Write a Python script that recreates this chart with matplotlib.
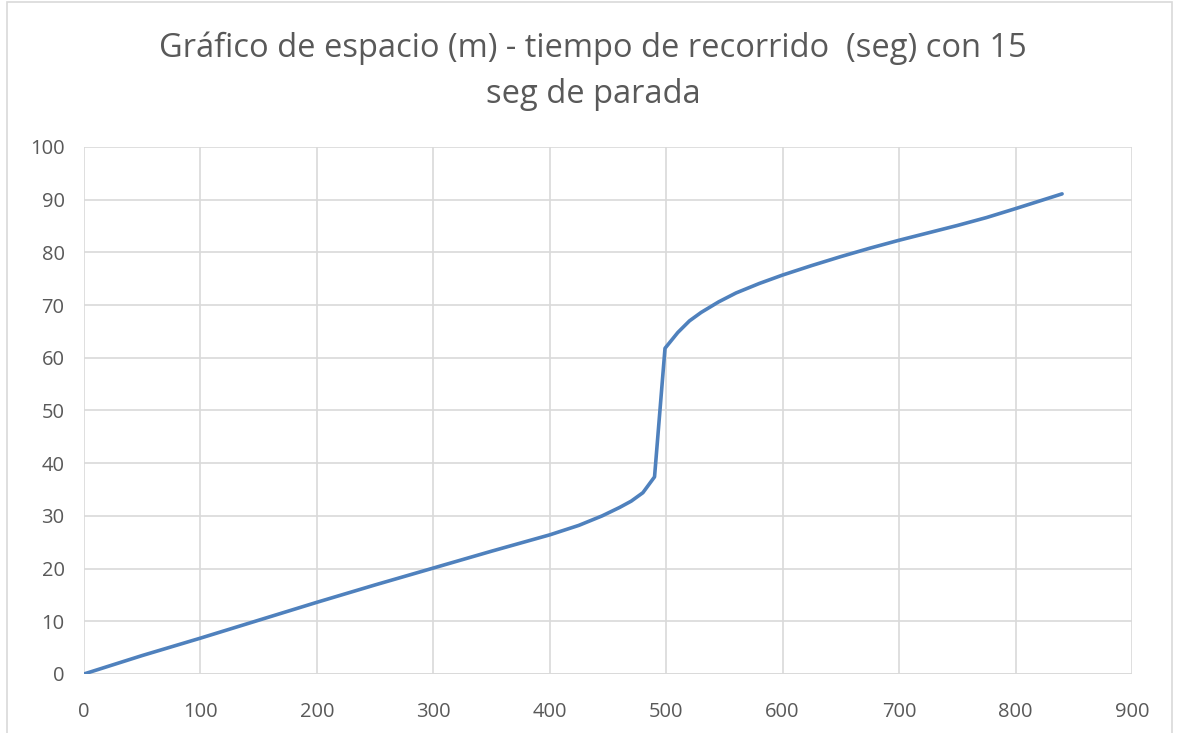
import matplotlib.pyplot as plt
from matplotlib.patches import Rectangle

# datos
tiempo = [0, 50, 100, 150, 200, 250, 300, 350, 400, 425, 445, 460, 470, 480,
          490, 499, 510, 520, 530, 545, 560, 580, 600, 625, 650, 675, 700,
          725, 750, 775, 800, 820, 840]
espacio = [0, 3.5, 6.8, 10.2, 13.6, 16.9, 20.1, 23.3, 26.4, 28.2, 30.0, 31.6,
           32.8, 34.4, 37.4, 61.8, 64.8, 67.0, 68.6, 70.6, 72.3, 74.1, 75.7,
           77.5, 79.2, 80.8, 82.3, 83.7, 85.1, 86.6, 88.3, 89.7, 91.1]

x_ticks = list(range(0, 1000, 100))
y_ticks = list(range(0, 110, 10))

titulo = "Gráfico de espacio (m) - tiempo de recorrido  (seg) con 15\nseg de parada"

plt.rcParams['font.family'] = ['Open Sans', 'DejaVu Sans']

fig = plt.figure(figsize=(11.79, 7.33), dpi=100)
ax = fig.add_axes([0.0712, 0.0805, 0.8889, 0.719])

ax.plot(tiempo, espacio, color='#4F81BD', linewidth=2.6, solid_capstyle='round')

ax.set_xlim(0, 900)
ax.set_ylim(0, 100)
ax.set_xticks(x_ticks)
ax.set_yticks(y_ticks)
ax.grid(True, color='#d9d9d9', linewidth=1.2)
ax.set_axisbelow(True)
for s in ax.spines.values():
    s.set_visible(False)
ax.axhline(0, color='#d9d9d9', linewidth=1.2, zorder=1)
ax.tick_params(length=0, labelsize=14.5, labelcolor='#595959')
ax.tick_params(axis='x', pad=20)
ax.tick_params(axis='y', pad=14)

fig.text(0.503, 0.903, titulo, ha='center', va='center', fontsize=23.5,
         color='#595959', linespacing=1.52)

# marco del grafico
fig.patches.append(Rectangle((7 / 1179, -0.05), (1172 - 7) / 1179, 1.047,
                             transform=fig.transFigure, fill=False,
                             edgecolor='#d9d9d9', linewidth=1.2))

fig.savefig('out.png', dpi=100)
